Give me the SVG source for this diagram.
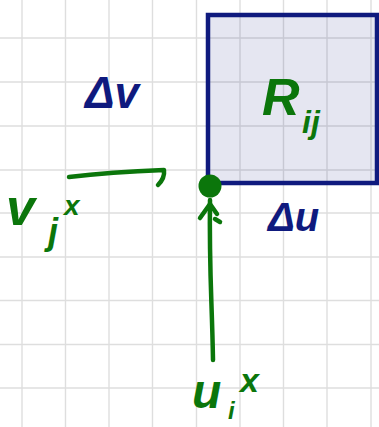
<svg xmlns="http://www.w3.org/2000/svg" width="379" height="427" viewBox="0 0 379 427">
  <style>
    .grid line { stroke: #dedede; stroke-width: 1.4; }
    .navy { fill: #0f1a7e; }
    .green { fill: #0b760b; }
    .hand { font-family: "Liberation Sans", "DejaVu Sans", sans-serif; font-weight: bold; font-style: italic; }
    .ink { fill: none; stroke: #0b760b; stroke-width: 4.5; stroke-linecap: round; stroke-linejoin: round; }
  </style>
  <rect width="379" height="427" fill="#ffffff"/>

  <!-- squared paper -->
  <g id="grid" class="grid">
    <line x1="22" y1="0" x2="22" y2="427"/>
    <line x1="65.5" y1="0" x2="65.5" y2="427"/>
    <line x1="109" y1="0" x2="109" y2="427"/>
    <line x1="152.5" y1="0" x2="152.5" y2="427"/>
    <line x1="196.5" y1="0" x2="196.5" y2="427"/>
    <line x1="240" y1="0" x2="240" y2="427"/>
    <line x1="283.5" y1="0" x2="283.5" y2="427"/>
    <line x1="327" y1="0" x2="327" y2="427"/>
    <line x1="371" y1="0" x2="371" y2="427"/>
    <line x1="0" y1="38" x2="379" y2="38"/>
    <line x1="0" y1="82" x2="379" y2="82"/>
    <line x1="0" y1="126" x2="379" y2="126"/>
    <line x1="0" y1="170" x2="379" y2="170"/>
    <line x1="0" y1="213" x2="379" y2="213"/>
    <line x1="0" y1="257" x2="379" y2="257"/>
    <line x1="0" y1="300.5" x2="379" y2="300.5"/>
    <line x1="0" y1="344.5" x2="379" y2="344.5"/>
    <line x1="0" y1="388" x2="379" y2="388"/>
  </g>

  <!-- cell R_ij -->
  <g id="cell">
    <rect x="208" y="15" width="169" height="168" fill="#0f1a7e" fill-opacity="0.11" stroke="#0f1a7e" stroke-width="4.5"/>
    <text class="hand green" x="262" y="115" font-size="52">R</text>
    <text class="hand green" x="302" y="133" font-size="32">ij</text>
  </g>

  <!-- side lengths -->
  <g id="delta-v">
    <text class="hand navy" x="85" y="108" font-size="44">Δv</text>
  </g>
  <g id="delta-u">
    <text class="hand navy" x="268" y="231" font-size="40">Δu</text>
  </g>

  <!-- corner point -->
  <g id="corner">
    <circle cx="210" cy="186" r="11.5" fill="#0b760b"/>
  </g>

  <!-- velocity components -->
  <g id="label-v">
    <text class="hand green" x="6" y="225" font-size="52">v</text>
    <text class="hand green" x="48" y="244" font-size="36">j</text>
    <text class="hand green" x="64" y="215" font-size="28">x</text>
  </g>
  <g id="label-u">
    <text class="hand green" x="192" y="408" font-size="48">u</text>
    <text class="hand green" x="228" y="419" font-size="24">i</text>
    <text class="hand green" x="240" y="392" font-size="34">x</text>
  </g>

  <g id="connectors">
    <path class="ink" d="M69,177 Q110,172 164,170 Q165,178 158,185"/>
    <path class="ink" d="M213,360 C212,300 209,270 210,200"/>
    <path class="ink" d="M200,218 L210,204 L217,214"/>
    <path class="ink" d="M215,219 L220,222"/>
  </g>
</svg>
